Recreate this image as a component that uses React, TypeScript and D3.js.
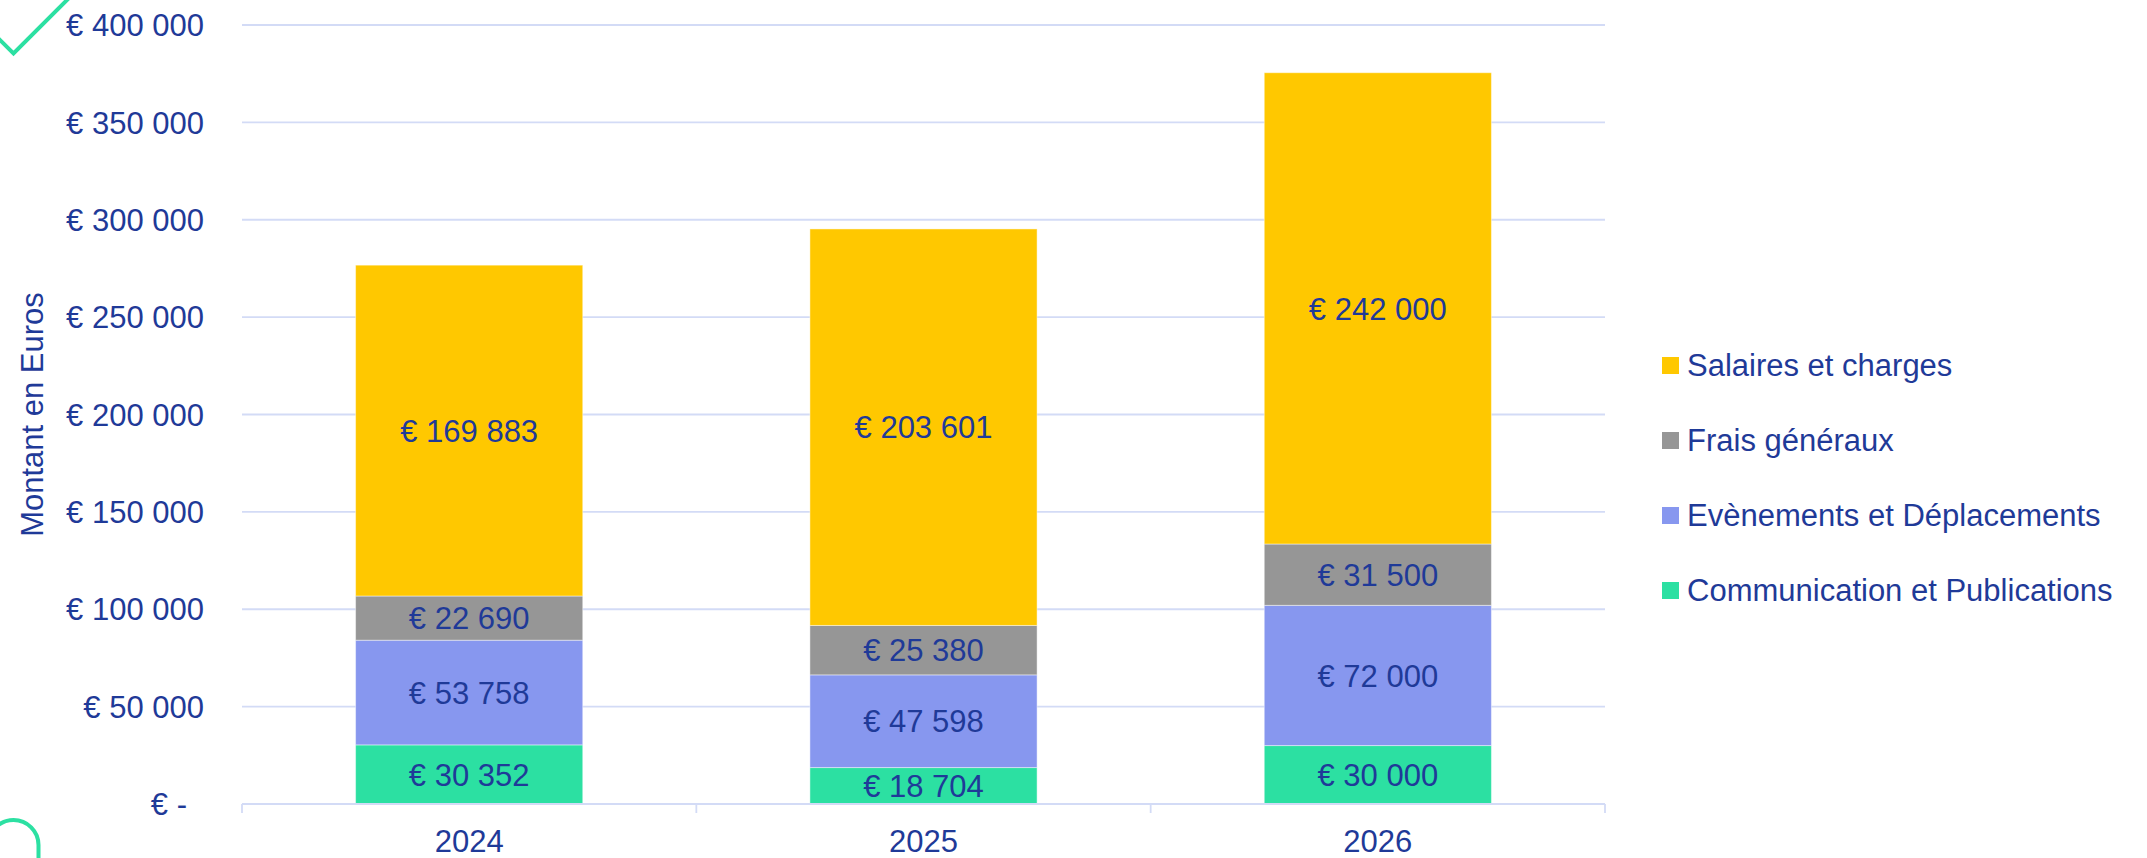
import React, { Component } from "react";
import * as d3 from "d3";

// chart data
const years = ["2024", "2025", "2026"];
const seriesKeys = ["communication", "evenements", "frais", "salaires"];
const seriesNames = [
    "Communication et Publications",
    "Evènements et Déplacements",
    "Frais généraux",
    "Salaires et charges",
];
const communication = [30352, 18704, 30000];
const evenements = [53758, 47598, 72000];
const frais = [22690, 25380, 31500];
const salaires = [169883, 203601, 242000];
const yTicks = [0, 50000, 100000, 150000, 200000, 250000, 300000, 350000, 400000];

const colors = ["#2CE0A2", "#8797EF", "#969696", "#FFC800"];
const textColor = "#1F3A98";
const gridColor = "#D3DBF6";
const font = "'Liberation Sans', Arial, sans-serif";

class App extends Component {
    svgRef = React.createRef<SVGSVGElement>();

    componentDidMount() {
        this.componentDidUpdate();
    }

    componentDidUpdate() {
        var W = 2147, H = 858;
        var margin = { top: 25, left: 242, right: 1605, bottom: 804 };

        var svg = d3.select(this.svgRef.current)
            .attr("width", W)
            .attr("height", H)
            .style("font-family", font);

        var table = years.map((y, i) => ({
            year: y,
            communication: communication[i],
            evenements: evenements[i],
            frais: frais[i],
            salaires: salaires[i],
        }));
        var stacked = d3.stack<any>().keys(seriesKeys)(table);

        var x = d3.scaleBand().domain(years).range([margin.left, margin.right])
            .paddingInner(0.5).paddingOuter(0.25);
        var y = d3.scaleLinear().domain([0, 400000]).range([margin.bottom, margin.top]);

        var loc = d3.formatLocale({ decimal: ",", thousands: "\u00a0", grouping: [3], currency: ["€\u00a0", ""] });
        var fmt = loc.format("$,");

        // gridlines
        svg.selectAll(".grid").data(yTicks.filter(d => d > 0)).join("line").attr("class", "grid")
            .attr("x1", margin.left).attr("x2", margin.right)
            .attr("y1", d => y(d)).attr("y2", d => y(d))
            .attr("stroke", gridColor).attr("stroke-width", 1.8);

        // y tick labels
        svg.selectAll(".ylab").data(yTicks).join("text").attr("class", "ylab")
            .attr("x", d => d === 0 ? 187 : 204)
            .attr("y", d => y(d))
            .attr("dy", "0.36em")
            .attr("text-anchor", "end")
            .attr("fill", textColor)
            .style("font-size", "31px")
            .text(d => d === 0 ? "€ -" : fmt(d));

        // bars
        var groups = svg.selectAll(".series").data(stacked).join("g").attr("class", "series")
            .attr("fill", (d, i) => colors[i]);
        groups.selectAll("rect").data(d => d).join("rect")
            .attr("x", (d: any) => x(d.data.year)!)
            .attr("width", x.bandwidth())
            .attr("y", d => y(d[1]))
            .attr("height", d => y(d[0]) - y(d[1]))
            .attr("stroke", "#ffffff").attr("stroke-opacity", 0.45).attr("stroke-width", 1);

        // segment labels
        groups.selectAll("text").data(d => d).join("text")
            .attr("x", (d: any) => x(d.data.year)! + x.bandwidth() / 2)
            .attr("y", d => (y(d[0]) + y(d[1])) / 2)
            .attr("dy", "0.36em")
            .attr("text-anchor", "middle")
            .attr("fill", textColor)
            .style("font-size", "31px")
            .text(d => fmt(d[1] - d[0]));

        // x axis
        svg.selectAll(".xaxis").data([0]).join("line").attr("class", "xaxis")
            .attr("x1", margin.left).attr("x2", margin.right)
            .attr("y1", margin.bottom).attr("y2", margin.bottom)
            .attr("stroke", gridColor).attr("stroke-width", 1.8);
        var step = x.step();
        var bounds = years.map(c => x(c)! - (step - x.bandwidth()) / 2).concat([margin.right]);
        svg.selectAll(".xtick").data(bounds).join("line").attr("class", "xtick")
            .attr("x1", d => d).attr("x2", d => d)
            .attr("y1", margin.bottom).attr("y2", margin.bottom + 9)
            .attr("stroke", gridColor).attr("stroke-width", 1.8);
        svg.selectAll(".xlab").data(years).join("text").attr("class", "xlab")
            .attr("x", d => x(d)! + x.bandwidth() / 2)
            .attr("y", 852)
            .attr("text-anchor", "middle")
            .attr("fill", textColor)
            .style("font-size", "31px")
            .text(d => d);

        // y axis title
        svg.selectAll(".ytitle").data([0]).join("text").attr("class", "ytitle")
            .attr("transform", `translate(43, ${(margin.top + margin.bottom) / 2}) rotate(-90)`)
            .attr("text-anchor", "middle")
            .attr("fill", textColor)
            .style("font-size", "31px")
            .text("Montant en Euros");

        // legend
        var legendData = seriesNames.map((n, i) => ({ name: n, color: colors[i] })).reverse();
        var legend = svg.selectAll(".legend").data(legendData).join("g").attr("class", "legend")
            .attr("transform", (d, i) => `translate(1662, ${365.5 + i * 75})`);
        legend.selectAll("rect").data(d => [d]).join("rect")
            .attr("x", 0).attr("y", -8.5).attr("width", 17).attr("height", 17)
            .attr("fill", d => d.color);
        legend.selectAll("text").data(d => [d]).join("text")
            .attr("x", 25).attr("y", 10.5)
            .attr("fill", textColor)
            .style("font-size", "31px")
            .text(d => d.name);

        // decorations
        svg.selectAll(".check").data([0]).join("path").attr("class", "check")
            .attr("d", "M -10 30 L 13.5 53.5 L 72 -5")
            .attr("fill", "none").attr("stroke", "#2CE0A2").attr("stroke-width", 4);
        svg.selectAll(".arch").data([0]).join("path").attr("class", "arch")
            .attr("d", "M -11.5 870 L -11.5 845 A 25 25 0 0 1 38.5 845 L 38.5 870")
            .attr("fill", "none").attr("stroke", "#2CE0A2").attr("stroke-width", 4);
    }

    render() {
        return (
            <svg ref={this.svgRef} style={{ position: "absolute", left: 0, top: 0, display: "block", background: "#fff" }}></svg>
        );
    }
}

export default App;
